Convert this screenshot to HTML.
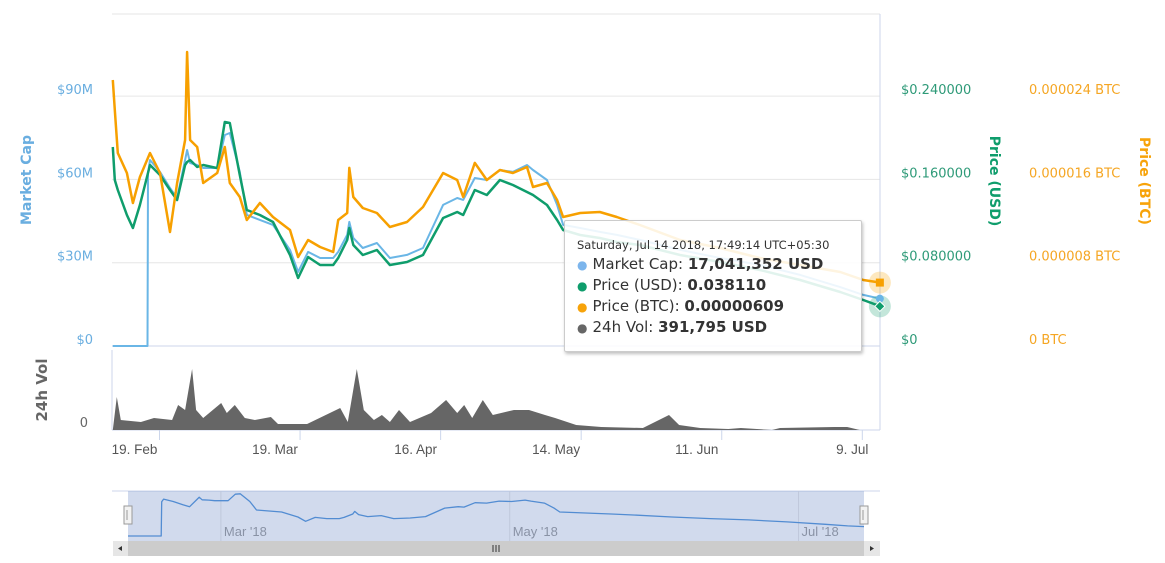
<!DOCTYPE html>
<html><head><meta charset="utf-8"><style>
body{margin:0;background:#fff;width:1165px;height:563px;overflow:hidden;font-family:"DejaVu Sans","Liberation Sans",sans-serif}
#tip{position:absolute;left:564px;top:220px;width:298px;height:132px;background:rgba(255,255,255,0.88);border:1px solid #ccc;box-shadow:1px 2px 3px rgba(0,0,0,0.25);border-radius:2px;box-sizing:border-box;padding:17px 0 0 12px;color:#333;font-family:"DejaVu Sans",sans-serif;white-space:nowrap}
#tip .h{font-size:11.5px;margin-bottom:2px}
#tip .r{font-size:15px;line-height:20px}
#tip .d{font-size:12px;margin-right:5px}
</style></head><body>
<svg id="c" width="1165" height="563" style="position:absolute;left:0;top:0"></svg>
<div id="tip">
<div class="h">Saturday, Jul 14 2018, 17:49:14 UTC+05:30</div>
<div class="r"><span class="d" style="color:#7cb5ec">●</span>Market Cap: <b>17,041,352 USD</b></div>
<div class="r"><span class="d" style="color:#0f9d6c">●</span>Price (USD): <b>0.038110</b></div>
<div class="r"><span class="d" style="color:#f7a30a">●</span>Price (BTC): <b>0.00000609</b></div>
<div class="r"><span class="d" style="color:#666">●</span>24h Vol: <b>391,795 USD</b></div>
</div>
<script>
// days offset from 19 Feb 2018
const priceDays=[-9.3,-8.9,-8.3,-6.5,-5.3,-3.9,-1.9,0.1,2.1,3.5,5.1,5.5,6.1,7.5,8.7,11.5,13,14,16,17.4,20,22.6,26,27.6,29.6,32,34.6,35.6,37.4,37.8,38.6,40.5,43.3,45.9,49.3,52.5,56.5,59.3,60.5,62.8,65.2,67.8,70.4,73.2,74.4,77.2,79.2,80.4,83.8,87.7,91.1,95.7,103.7,111.7,119.6,127.6,135.6,140.2,143.6];
const btcVals=[25.55,22.67,18.54,16.61,13.73,16.23,18.54,16.61,10.95,15.65,19.78,28.24,19.78,19.11,15.65,16.61,19.11,15.65,14.31,12.10,13.73,12.39,11.14,8.55,10.18,9.51,9.03,12.10,12.77,17.10,14.31,13.25,12.77,11.43,11.91,13.35,16.61,15.94,14.31,17.58,15.94,16.90,16.61,17.19,15.27,15.65,14.02,12.39,12.77,12.87,12.39,11.62,10.18,9.41,8.45,7.78,7.11,6.34,6.09]; // 1e-6 BTC
const usdVals=[0.1911,0.1594,0.1498,0.1258,0.1133,0.1354,0.1738,0.1642,0.1498,0.1402,0.1738,0.1767,0.1786,0.1719,0.1738,0.1709,0.2151,0.2142,0.1642,0.1306,0.1258,0.1191,0.0874,0.0653,0.0855,0.0778,0.0778,0.0845,0.1018,0.1133,0.0970,0.0874,0.0922,0.0778,0.0807,0.0874,0.1229,0.1287,0.1258,0.1498,0.1450,0.1594,0.1546,0.1479,0.1450,0.1354,0.1210,0.1114,0.1066,0.1037,0.0999,0.0970,0.0874,0.0807,0.0730,0.0634,0.0519,0.0442,0.0381];
const capDays=[-9.3,-2.4,-2.3,-1.9,0.1,2.1,3.5,5.1,5.5,6.1,7.5,8.7,11.5,13,14,16,17.4,20,22.6,26,27.6,29.6,32,34.6,35.6,37.4,37.8,38.6,40.5,43.3,45.9,49.3,52.5,56.5,59.3,60.5,62.8,65.2,67.8,70.4,73.2,74.4,77.2,79.2,80.4,83.8,87.7,91.1,95.7,103.7,111.7,119.6,127.6,135.6,140.2,143.6];
const capVals=[0,0,62.3,67.0,62.7,56.9,53.3,67.0,70.6,65.9,65.2,64.1,64.1,76.0,76.7,62.7,47.2,45.4,43.6,34.6,26.7,33.9,31.7,31.7,33.9,40.0,44.7,38.9,35.3,37.1,31.7,32.8,35.3,50.8,53.3,52.6,60.5,59.8,63.4,62.7,65.2,63.4,59.8,50.8,43.6,42.5,41.1,40.0,38.2,34.6,31.7,29.2,25.6,21.2,18.4,17.04]; // $M
const volDays=[-9.3,-8.5,-7.7,-3.7,-1.1,2.5,3.7,5.1,6.5,7.3,8.7,12.3,13.4,15.0,17.0,19.0,22.2,23.6,29.4,36.0,37.5,39.3,40.7,42.7,44.3,45.9,47.7,49.9,54.1,57.1,59.3,60.7,62.3,64.4,66.4,70.6,73.6,76.8,78.8,83.0,88.0,96.3,101.5,103.5,107.7,113.3,115.8,122.0,123.6,134.4,137.0,139.5,143.6];
const volVals=[0,1650,500,400,600,500,1250,1000,3050,1000,600,1350,850,1250,600,500,650,300,300,1100,400,3050,1000,500,750,400,1000,400,850,1500,850,1250,600,1500,750,1000,1000,750,600,250,150,100,750,250,100,50,100,0,100,150,150,0,0]; // k USD
const capTicks=["$0","$30M","$60M","$90M"];
const usdTicks=["$0","$0.080000","$0.160000","$0.240000"];
const btcTicks=["0 BTC","0.000008 BTC","0.000016 BTC","0.000024 BTC"];
const dateTicks=[0,28,56,84,112,140];
const dateLabels=["19. Feb","19. Mar","16. Apr","14. May","11. Jun","9. Jul"];
const navTicks=[10,70,130];
const navLabels=["Mar '18","May '18","Jul '18"];

const NS="http://www.w3.org/2000/svg",svg=document.getElementById('c');
function el(t,a,p){const e=document.createElementNS(NS,t);for(const k in a)e.setAttribute(k,a[k]);(p||svg).appendChild(e);return e;}
const X=d=>159.5+d*5.02;
const Y0=346,G=83.3;
const yCap=v=>Y0-v/30*G, yUsd=v=>Y0-v/0.08*G, yBtc=v=>Y0-v/8*G;
const yVol=v=>430-v*0.02;
const NX=d=>128+(d+9.3)/(152.9)*736, NY=v=>536-v*0.55;

for(let i=0;i<4;i++){const y=Y0-i*G;const l=el('line',{x1:112,x2:880,y1:y,y2:y,stroke:'#e6e6e6'});}
let b=el('line',{x1:112,x2:880,y1:14,y2:14,stroke:'#e6e6e6'});
b=el('line',{x1:880,x2:880,y1:14,y2:430,stroke:'#ccd6eb'});
b=el('line',{x1:112,x2:112,y1:350,y2:430,stroke:'#ccd6eb'});
b=el('line',{x1:112,x2:880,y1:430,y2:430,stroke:'#ccd6eb'});
b=el('line',{x1:112,x2:880,y1:Y0,y2:Y0,stroke:'#ccd6eb'});

function txt(s,x,y,a,name){const t=el('text',Object.assign({x:x,y:y,'font-size':13,'font-family':'DejaVu Sans, sans-serif'},a));t.textContent=s;return t;}
capTicks.forEach((s,i)=>txt(s,93,Y0-i*G-2,{fill:'#6aaee0','text-anchor':'end'},'market-cap-tick'));
usdTicks.forEach((s,i)=>txt(s,901,Y0-i*G-2,{fill:'#2e9a78'},'price-usd-tick'));
btcTicks.forEach((s,i)=>txt(s,1029,Y0-i*G-2,{fill:'#f5a623'},'price-btc-tick'));
txt('0',88,427,{fill:'#666','text-anchor':'end'},'volume-tick');
txt('Market Cap',31,180,{fill:'#6aaee0','font-weight':'bold','font-size':14,'text-anchor':'middle',transform:'rotate(-90 31 180)'},'market-cap-axis-title');
txt('24h Vol',47,390,{fill:'#666','font-weight':'bold','font-size':15,'text-anchor':'middle',transform:'rotate(-90 47 390)'},'volume-axis-title');
txt('Price (USD)',990,181,{fill:'#0f9d6c','font-weight':'bold','font-size':14,'text-anchor':'middle',transform:'rotate(90 990 181)'},'price-usd-axis-title');
txt('Price (BTC)',1140,181,{fill:'#f7a30a','font-weight':'bold','font-size':14,'text-anchor':'middle',transform:'rotate(90 1140 181)'},'price-btc-axis-title');
dateTicks.forEach((d,i)=>{const l=el('line',{x1:X(d),x2:X(d),y1:430,y2:440,stroke:'#ccd6eb'});txt(dateLabels[i],X(d)-(i==5?10:25),454,{fill:'#555','font-size':13.5,'text-anchor':'middle','font-family':'Liberation Sans, sans-serif'},'x-tick-label');});

let vp='M'+X(volDays[0])+' 430';volDays.forEach((d,i)=>vp+=' L'+X(d).toFixed(1)+' '+yVol(volVals[i]).toFixed(1));vp+=' L'+X(volDays[volDays.length-1])+' 430Z';
let v=el('path',{d:vp,fill:'#666'});

function line(days,vals,fx,fy,col,name,w){let p='';days.forEach((d,i)=>p+=(i?' L':'M')+fx(d).toFixed(1)+' '+fy(vals[i]).toFixed(1));const e=el('path',{d:p,fill:'none',stroke:col,'stroke-width':w||2.5,'stroke-linejoin':'round'});return e;}
line(capDays,capVals,X,yCap,'#6ab6e6','market-cap-line',2);
line(priceDays,usdVals,X,yUsd,'#0f9d6c','price-usd-line');
line(priceDays,btcVals,X,yBtc,'#f7a000','price-btc-line');

const ld=priceDays[priceDays.length-1];
let m=el('circle',{cx:X(ld)-0.5,cy:yBtc(btcVals[btcVals.length-1]),r:11,fill:'rgba(247,163,0,0.25)'});
m=el('circle',{cx:X(ld)-0.5,cy:yUsd(usdVals[usdVals.length-1]),r:11,fill:'rgba(15,157,108,0.25)'});
const bx=X(ld)-0.5,by=yBtc(btcVals[btcVals.length-1]);
m=el('rect',{x:bx-4,y:by-4,width:8,height:8,fill:'#f7a000'});
m=el('circle',{cx:bx,cy:yCap(capVals[capVals.length-1]),r:4,fill:'#6ab6e6'});
const gy=yUsd(usdVals[usdVals.length-1]);
m=el('path',{d:`M${bx} ${gy-5} L${bx+5} ${gy} L${bx} ${gy+5} L${bx-5} ${gy}Z`,fill:'#0f9d6c',stroke:'#fff'});

m=el('rect',{x:112,y:491,width:768,height:50,fill:'#fff'});
m=el('line',{x1:112,x2:880,y1:491,y2:491,stroke:'#ccd6eb'});
navTicks.forEach((d,i)=>{const l=el('line',{x1:NX(d),x2:NX(d),y1:491,y2:541,stroke:'#e6e6e6'});txt(navLabels[i],NX(d)+3,536,{fill:'#999','font-size':13,'font-family':'Liberation Sans, sans-serif'},'navigator-label');});
line(capDays,capVals,NX,NY,'#4a90d9','navigator-line',1.3);
m=el('rect',{x:128,y:491,width:736,height:50,fill:'rgba(102,133,194,0.3)'});
[128,864].forEach(x=>{const h=el('rect',{x:x-4,y:506,width:8,height:18,fill:'#f2f2f2',stroke:'#999'});
 const g=el('line',{x1:x-1,x2:x-1,y1:510,y2:520,stroke:'#999'});});
m=el('rect',{x:113,y:541,width:767,height:15,fill:'#f2f2f2'});
m=el('rect',{x:128,y:541,width:736,height:15,fill:'#cccccc'});
m=el('rect',{x:113,y:541,width:15,height:15,fill:'#e6e6e6'});
m=el('rect',{x:864,y:541,width:16,height:15,fill:'#e6e6e6'});
m=el('path',{d:'M122 546 L118 548.5 L122 551Z',fill:'#333'});
m=el('path',{d:'M870 546 L874 548.5 L870 551Z',fill:'#333'});
[493,496,499].forEach(x=>{const g=el('line',{x1:x,x2:x,y1:545,y2:552,stroke:'#333'});});
</script>
</body></html>
